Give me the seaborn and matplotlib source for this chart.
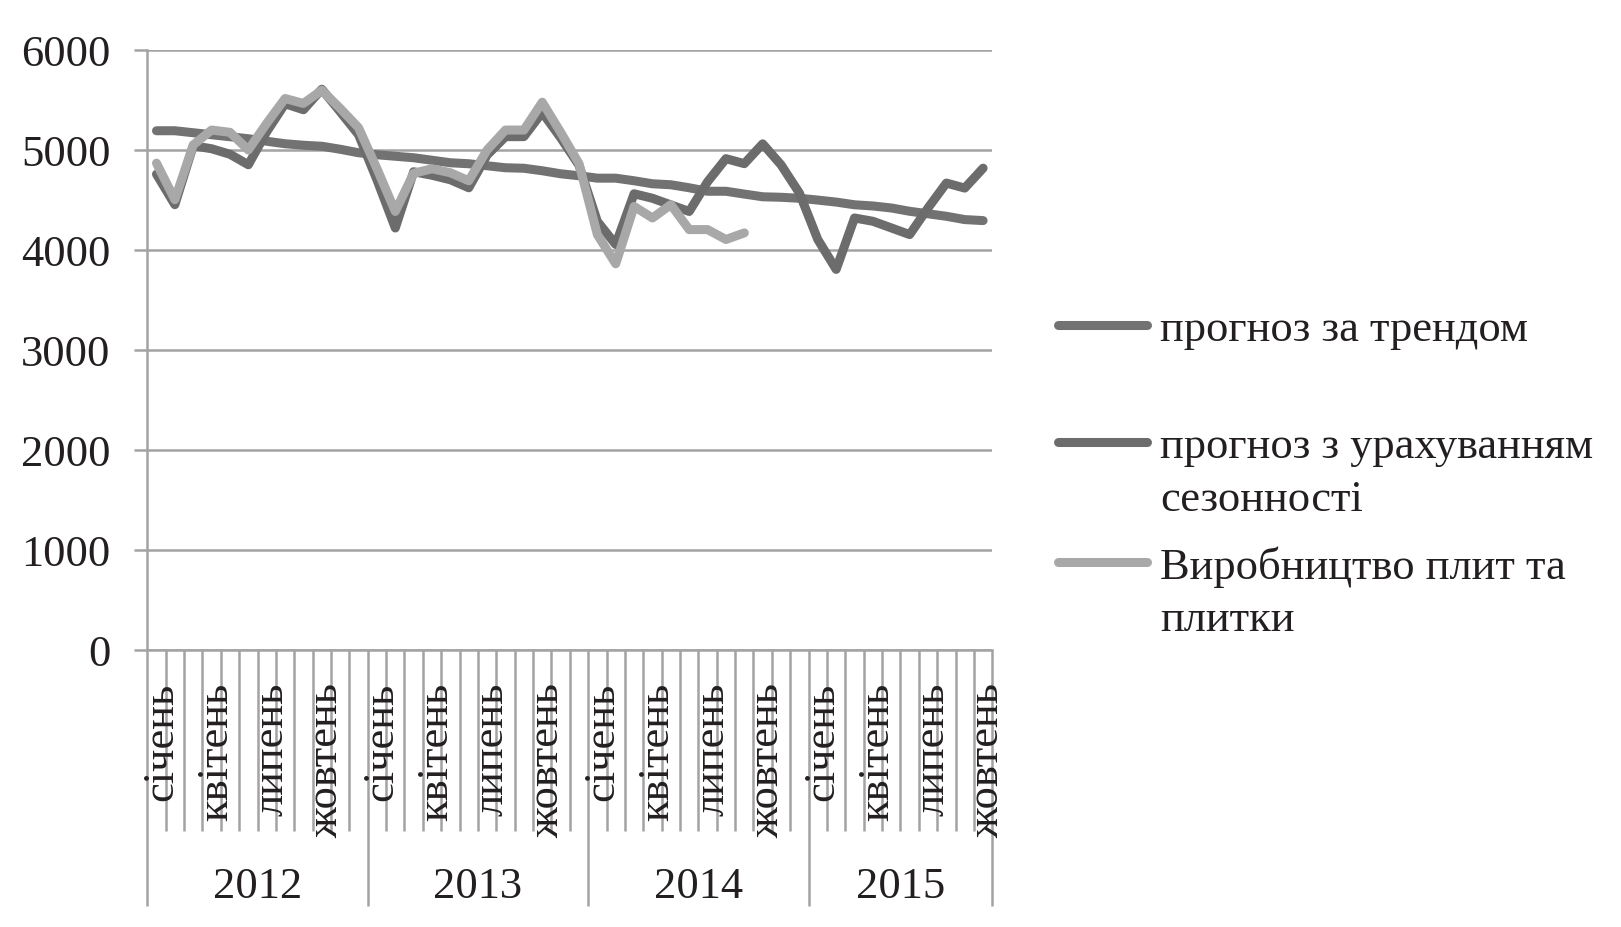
import numpy as np
import pandas as pd
import matplotlib
matplotlib.use("Agg")
import matplotlib.pyplot as plt
from matplotlib.lines import Line2D
import seaborn as sns

# ---------------- data ----------------
years = ["2012", "2013", "2014", "2015"]
months_per_year = [12, 12, 12, 10]
month_labels = ["січень", "квітень", "липень", "жовтень"]   # every 3rd month is labelled

series_names = ["прогноз за трендом",
                "прогноз з урахуванням\nсезонності",
                "Виробництво плит та\nплитки"]

trend = [5190, 5190, 5170, 5150, 5130, 5110, 5085, 5060, 5045, 5035, 5005, 4970,
         4950, 4935, 4920, 4895, 4870, 4860, 4840, 4820, 4815, 4790, 4760, 4740,
         4716, 4716, 4690, 4660, 4650, 4620, 4585, 4585, 4557, 4530, 4525, 4515,
         4497, 4477, 4450, 4438, 4418, 4385, 4360, 4335, 4302, 4292]

seasonal = [4756, 4451, 5040, 5010, 4955, 4850, 5180, 5460, 5400, 5605, 5380, 5150,
            4700, 4218, 4780, 4745, 4700, 4620, 4948, 5131, 5131, 5373, 5120, 4845,
            4284, 4053, 4560, 4515, 4449, 4383, 4680, 4911, 4861, 5059, 4849, 4567,
            4103, 3804, 4318, 4285, 4219, 4152, 4418, 4667, 4617, 4816]

actual = [4866, 4501, 5048, 5197, 5174, 4998, 5264, 5512, 5463, 5595, 5413, 5220,
          4812, 4383, 4765, 4810, 4770, 4690, 4998, 5197, 5197, 5475, 5175, 4861,
          4152, 3860, 4433, 4318, 4451, 4202, 4202, 4103, 4169]

# ---------------- style ----------------
sns.set_style("white")
plt.rcParams['font.family'] = ['Liberation Serif', 'DejaVu Serif']
TXT = '#231f20'
GRID = '#a3a3a3'
FS = 32
LW = 6.5

W, H = 1621, 928
fig = plt.figure(figsize=(W / 100, H / 100), dpi=100)
L, R, T, B = 147.3, 992.3, 50.7, 651.0
ax = fig.add_axes([L / W, (H - B) / H, (R - L) / W, (B - T) / H])

colors = ['#727272', '#6c6c6c', '#a8a8a8']
all_vals = [trend, seasonal, actual]
frames = []
for name, vals in zip(series_names, all_vals):
    frames.append(pd.DataFrame({"idx": np.arange(len(vals)), "value": vals, "series": name}))
df = pd.concat(frames, ignore_index=True)

for name, c in zip(series_names, colors):
    sub = df[df["series"] == name]
    sns.lineplot(data=sub, x="idx", y="value", ax=ax, color=c, linewidth=LW,
                 sort=False, legend=False, zorder=3)

for ln in ax.get_lines():
    ln.set_linewidth(LW)
    ln.set_solid_capstyle('round')
    ln.set_solid_joinstyle('round')

n_total = sum(months_per_year)
ax.set_xlim(-0.5, n_total - 0.5)
ax.set_ylim(0, 6000)
ax.set_xlabel("")
ax.set_ylabel("")

# y axis
ax.set_yticks(np.arange(0, 6001, 1000))
ax.set_yticklabels([str(v) for v in range(0, 6001, 1000)])
ax.yaxis.grid(True, color=GRID, lw=1.8)
ax.xaxis.grid(False)
ax.set_axisbelow(True)
for s in ['top', 'right']:
    ax.spines[s].set_visible(False)
for s in ['left', 'bottom']:
    ax.spines[s].set_color(GRID)
    ax.spines[s].set_linewidth(1.8)
ax.tick_params(axis='y', length=9.4, width=1.8, color=GRID, pad=17,
               labelsize=FS, labelcolor=TXT, left=True)

# x axis: multi-level category ticks
bounds = np.arange(-0.5, n_total, 1.0)
year_starts = np.concatenate([[0], np.cumsum(months_per_year)]) - 0.5
ax.set_xticks(year_starts)
ax.set_xticks(bounds, minor=True)
ax.tick_params(axis='x', which='major', length=184, width=1.8, color=GRID,
               labelbottom=False, bottom=True)
ax.tick_params(axis='x', which='minor', length=130, width=1.8, color=GRID,
               labelbottom=False, bottom=True)

xt = ax.get_xaxis_transform()
axh = B - T
y_month = -(683 - B) / axh
y_year = -(887 - B) / axh
start = 0
for yr, n in zip(years, months_per_year):
    for k, m in enumerate(range(0, n, 3)):
        ax.text(start + m + 0.25, y_month, month_labels[k], rotation=90,
                ha='center', va='top', fontsize=FS, color=TXT, transform=xt)
    ax.text(start + n / 2 - 0.5, y_year, yr, ha='center', va='center',
            fontsize=FS, color=TXT, transform=xt)
    start += n

# legend (manual, Excel-like)
handle_y = [326, 443, 563]
for name, c, hy in zip(series_names, colors, handle_y):
    yf = (H - hy) / H
    fig.add_artist(Line2D([1058 / W, 1147 / W], [yf, yf], transform=fig.transFigure,
                          color=c, lw=6.5, solid_capstyle='round'))
    for j, line in enumerate(name.split("\n")):
        ty = hy + 4 + j * 52.7
        fig.text(1160 / W, (H - ty) / H, line, ha='left', va='center',
                 fontsize=FS, color=TXT)

fig.savefig("out.png", dpi=100)
